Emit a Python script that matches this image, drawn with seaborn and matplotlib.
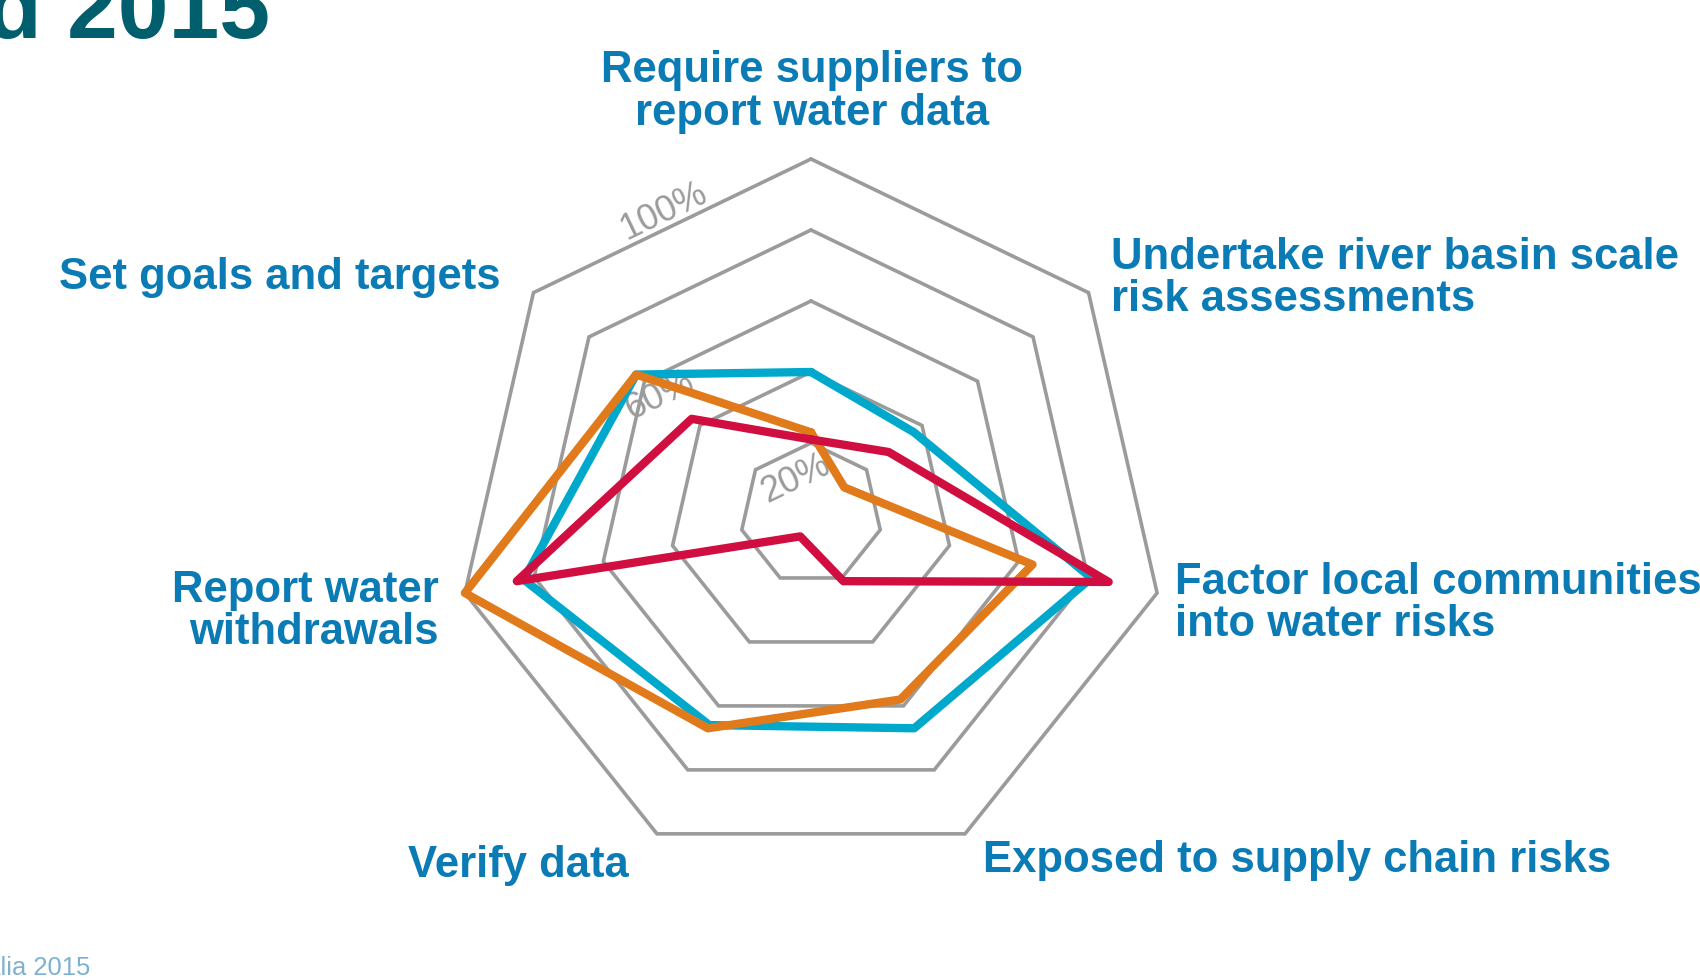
import numpy as np
import pandas as pd
import matplotlib
matplotlib.use("Agg")
import matplotlib.pyplot as plt
import seaborn as sns

# ---------------- data ----------------
categories = [
    "Require suppliers to report water data",
    "Undertake river basin scale risk assessments",
    "Factor local communities into water risks",
    "Exposed to supply chain risks",
    "Verify data",
    "Report water withdrawals",
    "Set goals and targets",
]
category_lines = [
    ["Require suppliers to", "report water data"],
    ["Undertake river basin scale", "risk assessments"],
    ["Factor local communities", "into water risks"],
    ["Exposed to supply chain risks"],
    ["Verify data"],
    ["Report water", "withdrawals"],
    ["Set goals and targets"],
]
series_names = ["Series 1", "Series 2", "Series 3"]
series1_values = [40, 37, 81, 67, 66, 83, 63]   # cyan
series2_values = [23, 12, 64, 58, 67, 100, 63]  # orange
series3_values = [21, 28, 86, 21, 7, 85, 43]    # red
ring_levels = [20, 40, 60, 80, 100]
ring_tick_labels = ["20%", "60%", "100%"]
title_text = "d 2015"
source_text = "Australia 2015"

# ---------------- style ----------------
W, H = 1700, 979
sns.set_theme(style="white")
plt.rcParams["font.family"] = ["Liberation Sans", "DejaVu Sans"]

colors = {"Series 1": "#00A9CC", "Series 2": "#E07A1B", "Series 3": "#D00F40"}
label_color = "#0A7BB5"
grid_color = "#9B9B9B"

fig = plt.figure(figsize=(W / 100, H / 100), dpi=100)
fig.patch.set_facecolor("white")

cx, cy, R = 811, 515, 355  # pixel centre / radius
ax = fig.add_axes([(cx - R) / W, (H - cy - R) / H, 2 * R / W, 2 * R / H], projection="polar")
ax.set_theta_zero_location("N")
ax.set_theta_direction(-1)
ax.set_ylim(0, 1)
ax.set_axis_off()

n = len(categories)
theta = np.arange(n) * 2 * np.pi / n
theta_closed = np.append(theta, 2 * np.pi)

# grid heptagons
for lv in ring_levels:
    ax.plot(theta_closed, [lv / 100] * (n + 1), color=grid_color, lw=2.6,
            solid_joinstyle="miter", clip_on=False, zorder=1)

# series
rows = []
for name, vals in zip(series_names, [series1_values, series2_values, series3_values]):
    for t, v in zip(theta_closed, list(vals) + [vals[0]]):
        rows.append({"series": name, "theta": t, "value": v / 100})
df = pd.DataFrame(rows)
before = len(ax.lines)
sns.lineplot(data=df, x="theta", y="value", hue="series", hue_order=series_names,
             palette=colors, sort=False, estimator=None, linewidth=6.0,
             legend=False, ax=ax)
for i, line in enumerate(ax.lines[before:]):
    line.set_solid_joinstyle("round")
    line.set_solid_capstyle("round")
    line.set_clip_on(False)
    line.set_zorder(3 + i)
ax.set_ylim(0, 1)
ax.set_axis_off()

# ring tick labels (theta deg clockwise from N, r)
tick_pos = [(-22.6, 0.110), (-51.8, 0.543), (-25.9, 0.951)]
for txt, (tdeg, r) in zip(ring_tick_labels, tick_pos):
    ax.text(np.deg2rad(tdeg), r, txt, color=grid_color, fontsize=26,
            rotation=25.7, rotation_mode="anchor", ha="center", va="center", zorder=2)

# category labels: per line (x_px, baseline_px), alignment
label_layout = [
    ("center", [(812, 82), (812, 125)]),
    ("left", [(1111, 269), (1111, 311)]),
    ("left", [(1175, 594), (1175, 636)]),
    ("left", [(983, 872)]),
    ("right", [(629, 877)]),
    ("right", [(439, 602), (439, 644)]),
    ("right", [(501, 289)]),
]
for lines, (ha, pos) in zip(category_lines, label_layout):
    for txt, (x, y) in zip(lines, pos):
        fig.text(x / W, 1 - y / H, txt, ha=ha, va="baseline", fontsize=31.4,
                 fontweight="bold", color=label_color)

# title fragment and source
fig.text(270 / W, 1 - 38 / H, title_text, ha="right", va="baseline", fontsize=65.7,
         fontweight="bold", color="#005E6D")
fig.text(90 / W, 1 - 975 / H, source_text, ha="right", va="baseline", fontsize=18.4,
         color="#7DB1D1")

fig.savefig("out.png", dpi=100, facecolor="white")
